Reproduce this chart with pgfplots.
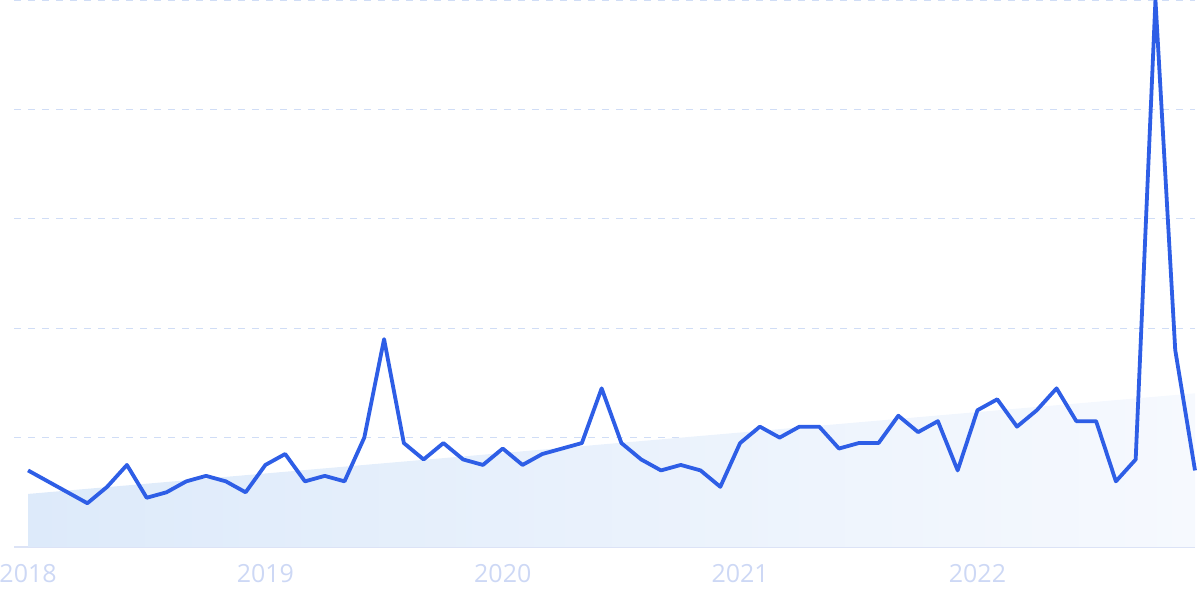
\documentclass[border=0pt]{standalone}
\usepackage{fontspec}
\setmainfont{Open Sans}
\usepackage{pgfplots}
\pgfplotsset{compat=1.18}
\definecolor{linec}{RGB}{46,94,230}
\definecolor{gridc}{RGB}{208,221,246}
\definecolor{axisc}{RGB}{220,227,246}
\definecolor{labc}{RGB}{205,216,245}
\definecolor{trendL}{RGB}{221,234,250}
\definecolor{trendR}{RGB}{246,249,254}
\begin{document}
\begin{tikzpicture}
\begin{axis}[
  scale only axis,
  width=590.5pt, height=273.5pt,
  at={(0,0)}, anchor=south west,
  xmin=-0.71, xmax=59, ymin=0, ymax=100,
  axis x line=bottom, axis y line=left,
  y axis line style={draw=none},
  x axis line style={-, color=axisc, line width=0.6pt},
  xtick={0,12,24,36,48},
  xticklabels={2018,2019,2020,2021,2022},
  ytick={20,40,60,80,100},
  yticklabels={},
  major tick length=0pt,
  ymajorgrids,
  grid style={color=gridc, line width=0.6pt, dash pattern=on 3.5pt off 3.5pt},
  /pgf/number format/assume math mode=true,
  xticklabel style={font=\fontsize{12.5}{14}\selectfont, text=labc, anchor=center, yshift=-13.5pt},
  clip=false,
]
\addplot[draw=none, left color=trendL, right color=trendR] coordinates {(0,9.7) (59,28.1)} \closedcycle;
\addplot[color=linec, line width=1.9pt, line join=round] coordinates {
(0,14) (1,12) (2,10) (3,8) (4,11) (5,15) (6,9) (7,10) (8,12) (9,13) (10,12) (11,10)
(12,15) (13,17) (14,12) (15,13) (16,12) (17,20) (18,38) (19,19) (20,16) (21,19) (22,16) (23,15)
(24,18) (25,15) (26,17) (27,18) (28,19) (29,29) (30,19) (31,16) (32,14) (33,15) (34,14) (35,11)
(36,19) (37,22) (38,20) (39,22) (40,22) (41,18) (42,19) (43,19) (44,24) (45,21) (46,23) (47,14)
(48,25) (49,27) (50,22) (51,25) (52,29) (53,23) (54,23) (55,12) (56,16) (57,100) (58,36) (59,14)
};
\end{axis}
\pgfresetboundingbox
\path[use as bounding box] (-7pt,-26pt) rectangle (593pt,273.5pt);
\end{tikzpicture}
\end{document}
